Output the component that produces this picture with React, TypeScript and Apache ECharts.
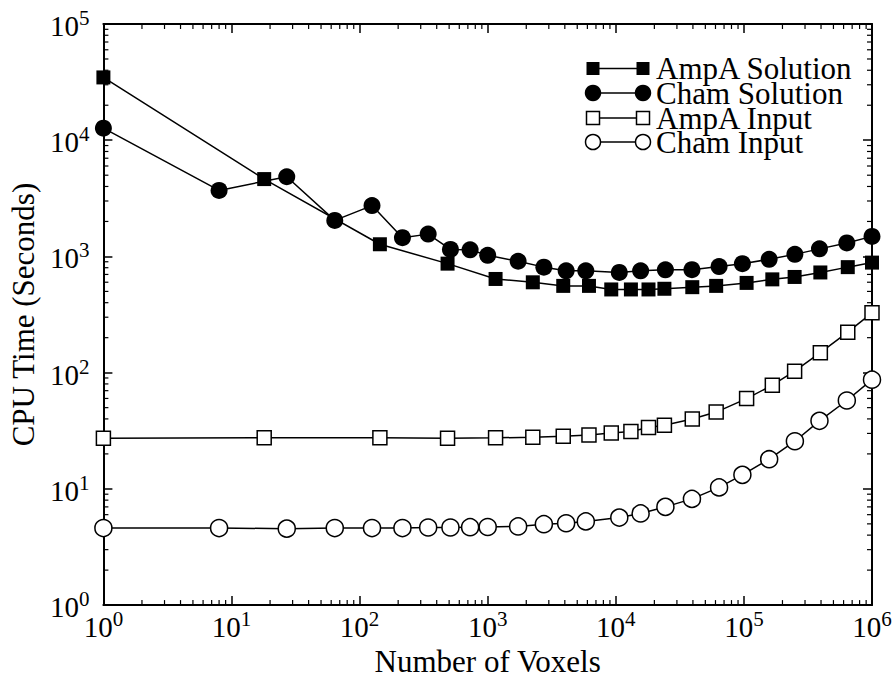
import React, { useEffect, useRef } from 'react';
import * as echarts from 'echarts';

// ---- data ----
const CHAM_X = [1, 8, 27, 64, 125, 216, 343, 512, 729, 1000, 1728, 2744, 4096, 5832, 10648, 15625, 24389, 39304, 64000, 97336, 157464, 250047, 389017, 636056, 1000000];
const CHAM_SOLUTION = [12700, 3700, 4850, 2043, 2738, 1451, 1556, 1148, 1140, 1022, 909, 809, 752, 752, 728, 752, 767, 770, 818, 867, 945, 1042, 1162, 1306, 1488];
const CHAM_INPUT = [4.6, 4.6, 4.55, 4.6, 4.6, 4.6, 4.65, 4.65, 4.68, 4.7, 4.75, 4.97, 5.06, 5.25, 5.66, 6.15, 7.0, 8.2, 10.3, 13.2, 18.0, 25.7, 38.5, 57.6, 87];
const AMPA_X = [1, 18, 144, 486, 1152, 2250, 3888, 6174, 9216, 13122, 18000, 23958, 39546, 60750, 104976, 166698, 248832, 395136, 646866, 1000000];
const AMPA_SOLUTION = [34700, 4630, 1273, 867, 640, 599, 558, 558, 520, 520, 520, 527, 544, 558, 592, 635, 666, 728, 809, 885];
const AMPA_INPUT = [27.2, 27.6, 27.5, 27.3, 27.5, 27.8, 28.4, 29.1, 30.2, 31.2, 33.8, 35.3, 40, 45.8, 59.8, 78.1, 103, 148.5, 223, 327];

const SERIES_NAMES = ['AmpA Solution', 'Cham Solution', 'AmpA Input', 'Cham Input'];
const X_TITLE = 'Number of Voxels';
const Y_TITLE = 'CPU Time (Seconds)';
const X_MIN = 1;
const X_MAX = 1e6;
const Y_MIN = 1;
const Y_MAX = 1e5;
const MINOR_MULT = [2, 3, 4, 5, 6, 7, 8, 9];
const X_DECADES = [1, 10, 100, 1000, 10000, 100000];
const Y_DECADES = [1, 10, 100, 1000, 10000];

const FONT = '"Liberation Serif", "Times New Roman", serif';

const zip = (xs: number[], ys: number[]) => xs.map((x, i) => [x, ys[i]]);

export default function App() {
  const ref = useRef<HTMLDivElement>(null);

  useEffect(() => {
    if (!ref.current) return;
    const chart = echarts.init(ref.current, null, { renderer: 'svg' });

    const xMinor: number[] = [];
    X_DECADES.forEach((d) => MINOR_MULT.forEach((m) => xMinor.push(d * m)));
    const yMinor: number[] = [];
    Y_DECADES.forEach((d) => MINOR_MULT.forEach((m) => yMinor.push(d * m)));

    const tickFmt = (v: number) => `{b|10}{s|${Math.round(Math.log10(v))}}`;
    const rich = {
      b: { fontSize: 29, fontFamily: FONT, color: '#000', lineHeight: 33, verticalAlign: 'bottom' },
      s: { fontSize: 21, fontFamily: FONT, color: '#000', lineHeight: 21, verticalAlign: 'top' },
    };

    const axisLine = { show: true, lineStyle: { color: '#000', width: 2 } };
    const majorTick = { show: true, inside: true, length: 9, lineStyle: { color: '#000', width: 1.5 } };

    const lineStyle = { color: '#000', width: 1.5 };

    const minorStyle = { stroke: '#000', lineWidth: 1.2 };
    const ML = 5;

    // legend drawn as graphic
    const legendRows = [
      { y: 68.5, symbol: 'rect', filled: true, size: 13 },
      { y: 93, symbol: 'circle', filled: true, size: 16.5 },
      { y: 118, symbol: 'rect', filled: false, size: 13 },
      { y: 142, symbol: 'circle', filled: false, size: 15 },
    ];
    const LX1 = 593;
    const LX2 = 643;
    const legendGraphics: any[] = [];
    legendRows.forEach((r, i) => {
      legendGraphics.push({
        type: 'line',
        shape: { x1: LX1, y1: r.y, x2: LX2, y2: r.y },
        style: { stroke: '#000', lineWidth: 1.5 },
        z: 100,
      });
      [LX1, LX2].forEach((cx) => {
        const style = { fill: r.filled ? '#000' : '#fff', stroke: '#000', lineWidth: r.filled ? 0 : 1.5 };
        if (r.symbol === 'rect') {
          legendGraphics.push({
            type: 'rect',
            shape: { x: cx - r.size / 2, y: r.y - r.size / 2, width: r.size, height: r.size },
            style,
            z: 101,
          });
        } else {
          legendGraphics.push({
            type: 'circle',
            shape: { cx, cy: r.y, r: r.size / 2 },
            style,
            z: 101,
          });
        }
      });
      legendGraphics.push({
        type: 'text',
        x: 656,
        y: r.y,
        style: {
          text: SERIES_NAMES[i],
          font: `31px ${FONT}`,
          lineHeight: 23,
          fill: '#000',
          align: 'left',
          verticalAlign: 'middle',
        },
        z: 101,
      });
    });

    const nameStyle = { fontSize: 31, fontFamily: FONT, color: '#000' };

    const option: any = {
      animation: false,
      backgroundColor: '#fff',
      grid: { left: 96, right: 23, top: 24, bottom: 67, containLabel: false },
      xAxis: [
        {
          type: 'log',
          logBase: 10,
          min: X_MIN,
          max: X_MAX,
          position: 'bottom',
          name: X_TITLE,
          nameLocation: 'middle',
          nameGap: 29,
          nameTextStyle: nameStyle,
          axisLine,
          axisTick: majorTick,
          axisLabel: { show: true, margin: 3, formatter: tickFmt, rich, showMinLabel: true, showMaxLabel: true },
          splitLine: { show: false },
          minorTick: { show: false },
        },
        {
          type: 'log',
          logBase: 10,
          min: X_MIN,
          max: X_MAX,
          position: 'top',
          axisLine,
          axisTick: majorTick,
          axisLabel: { show: false },
          splitLine: { show: false },
        },
      ],
      yAxis: [
        {
          type: 'log',
          logBase: 10,
          min: Y_MIN,
          max: Y_MAX,
          position: 'left',
          name: Y_TITLE,
          nameLocation: 'middle',
          nameGap: 57,
          nameTextStyle: nameStyle,
          axisLine,
          axisTick: majorTick,
          axisLabel: { show: true, margin: 14, formatter: tickFmt, rich, showMinLabel: true, showMaxLabel: true },
          splitLine: { show: false },
        },
        {
          type: 'log',
          logBase: 10,
          min: Y_MIN,
          max: Y_MAX,
          position: 'right',
          axisLine,
          axisTick: majorTick,
          axisLabel: { show: false },
          splitLine: { show: false },
        },
      ],
      graphic: legendGraphics,
      series: [
        {
          name: 'xMinorTicks',
          type: 'custom',
          silent: true,
          clip: false,
          data: xMinor.map((v) => [v, Y_MIN]),
          renderItem: (_p: any, api: any) => {
            const v = api.value(0);
            const b = api.coord([v, Y_MIN]);
            const t = api.coord([v, Y_MAX]);
            return {
              type: 'group',
              children: [
                { type: 'line', shape: { x1: b[0], y1: b[1], x2: b[0], y2: b[1] - ML }, style: minorStyle },
                { type: 'line', shape: { x1: t[0], y1: t[1], x2: t[0], y2: t[1] + ML }, style: minorStyle },
              ],
            };
          },
        },
        {
          name: 'yMinorTicks',
          type: 'custom',
          silent: true,
          clip: false,
          data: yMinor.map((v) => [X_MIN, v]),
          renderItem: (_p: any, api: any) => {
            const v = api.value(1);
            const l = api.coord([X_MIN, v]);
            const r = api.coord([X_MAX, v]);
            return {
              type: 'group',
              children: [
                { type: 'line', shape: { x1: l[0], y1: l[1], x2: l[0] + ML, y2: l[1] }, style: minorStyle },
                { type: 'line', shape: { x1: r[0], y1: r[1], x2: r[0] - ML, y2: r[1] }, style: minorStyle },
              ],
            };
          },
        },
        {
          name: SERIES_NAMES[2],
          type: 'line',
          data: zip(AMPA_X, AMPA_INPUT),
          symbol: 'rect',
          symbolSize: 14,
          showAllSymbol: true,
          lineStyle,
          itemStyle: { color: '#fff', borderColor: '#000', borderWidth: 1.5 },
          z: 3,
        },
        {
          name: SERIES_NAMES[3],
          type: 'line',
          data: zip(CHAM_X, CHAM_INPUT),
          symbol: 'circle',
          symbolSize: 17,
          showAllSymbol: true,
          lineStyle,
          itemStyle: { color: '#fff', borderColor: '#000', borderWidth: 1.5 },
          z: 3,
        },
        {
          name: SERIES_NAMES[0],
          type: 'line',
          data: zip(AMPA_X, AMPA_SOLUTION),
          symbol: 'rect',
          symbolSize: 14,
          showAllSymbol: true,
          lineStyle,
          itemStyle: { color: '#000', borderColor: '#000', borderWidth: 0 },
          z: 4,
        },
        {
          name: SERIES_NAMES[1],
          type: 'line',
          data: zip(CHAM_X, CHAM_SOLUTION),
          symbol: 'circle',
          symbolSize: 17,
          showAllSymbol: true,
          lineStyle,
          itemStyle: { color: '#000', borderColor: '#000', borderWidth: 0 },
          z: 4,
        },
      ],
    };

    chart.setOption(option);
    return () => chart.dispose();
  }, []);

  return (
    <div
      ref={ref}
      style={{ position: 'absolute', left: 0, top: 0, width: 895, height: 682, background: '#fff' }}
    />
  );
}
